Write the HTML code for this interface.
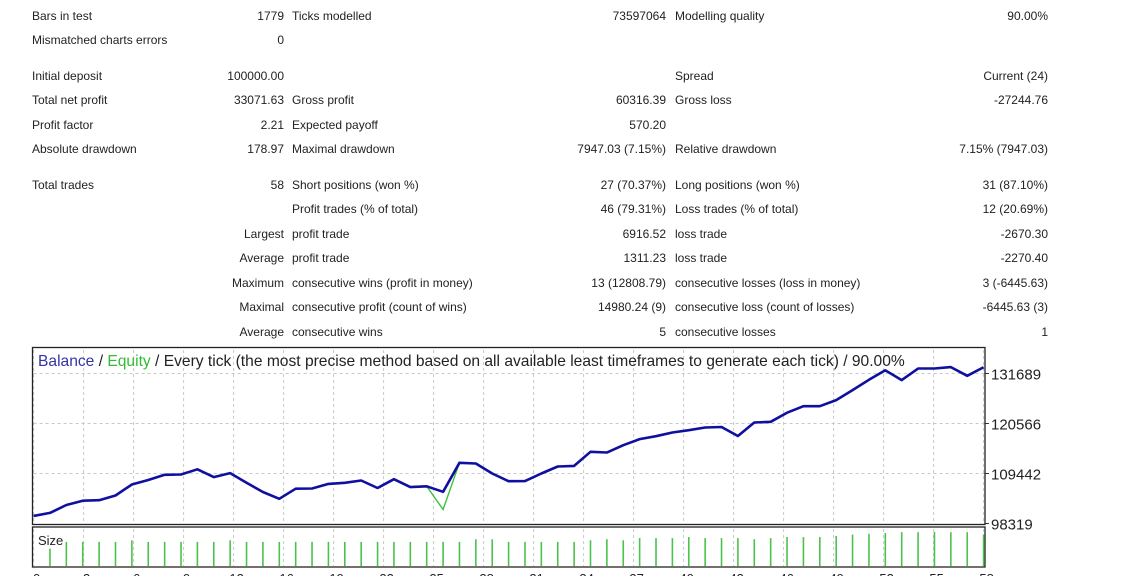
<!DOCTYPE html>
<html><head><meta charset="utf-8"><style>
body{margin:0;width:1137px;height:576px;background:#fff;overflow:hidden;position:relative;font-family:"Liberation Sans",sans-serif;font-size:12px;color:#222}
.t{position:absolute;white-space:nowrap;line-height:14px}
.r{text-align:right}
</style></head><body>
<div id="tbl"></div>
<svg id="ch" width="1137" height="576" style="position:absolute;left:0;top:0"></svg>
<script>
const rows=[
[15,"Bars in test","1779","Ticks modelled","73597064","Modelling quality","90.00%"],
[39,"Mismatched charts errors","0","","","",""],
[75,"Initial deposit","100000.00","","","Spread","Current (24)"],
[99,"Total net profit","33071.63","Gross profit","60316.39","Gross loss","-27244.76"],
[124,"Profit factor","2.21","Expected payoff","570.20","",""],
[148,"Absolute drawdown","178.97","Maximal drawdown","7947.03 (7.15%)","Relative drawdown","7.15% (7947.03)"],
[184,"Total trades","58","Short positions (won %)","27 (70.37%)","Long positions (won %)","31 (87.10%)"],
[208,"","","Profit trades (% of total)","46 (79.31%)","Loss trades (% of total)","12 (20.69%)"],
[233,"","Largest","profit trade","6916.52","loss trade","-2670.30"],
[257,"","Average","profit trade","1311.23","loss trade","-2270.40"],
[282,"","Maximum","consecutive wins (profit in money)","13 (12808.79)","consecutive losses (loss in money)","3 (-6445.63)"],
[306,"","Maximal","consecutive profit (count of wins)","14980.24 (9)","consecutive loss (count of losses)","-6445.63 (3)"],
[331,"","Average","consecutive wins","5","consecutive losses","1"]];
const tbl=document.getElementById('tbl');
rows.forEach(r=>{
 const y=r[0]-6;
 [[r[1],32,0],[r[2],284,1],[r[3],292,0],[r[4],666,1],[r[5],675,0],[r[6],1048,1]].forEach(c=>{
  if(!c[0])return;
  const d=document.createElement('div');
  d.className='t'+(c[2]?' r':'');
  d.style.top=y+'px';
  if(c[2]){d.style.right=(1137-c[1])+'px';}else d.style.left=c[1]+'px';
  d.textContent=c[0];
  
  
  tbl.appendChild(d);
 });
});

const balance=[100000,100677,102435,103391,103502,104548,106995,107996,109153,109220,110376,108641,109531,107395,105326,103814,106061,106105,107128,107373,107885,106216,108174,106417,106595,105371,111822,111667,109442,107729,107751,109442,110999,111133,114269,114114,115738,117095,117740,118563,119074,119675,119786,117784,120787,120943,122968,124413,124413,125771,127995,130286,132400,130220,132800,132800,133112,131176,133072];
const equity=[100000,100677,102435,103391,103502,104548,106995,107996,109153,109220,110376,108641,109531,107395,105326,103814,106061,106105,107128,107373,107885,106216,108174,106417,106595,101433,111822,111667,109442,107729,107751,109442,110999,111133,114269,114114,115738,117095,117740,118563,119074,119675,119786,117784,120787,120943,122968,124413,124413,125771,127995,130286,132400,130220,132800,132800,133112,131176,133072];
const sizes=[0,0.68,0.93,0.93,0.93,0.93,0.99,0.93,0.93,0.93,0.93,0.93,0.99,0.93,0.93,0.93,0.93,0.93,0.93,0.93,0.93,0.93,0.93,0.93,0.93,0.93,0.93,1.03,1.03,0.93,0.93,0.93,0.93,0.93,0.99,1.03,0.99,1.07,1.07,1.07,1.11,1.07,1.07,1.07,1.03,1.07,1.11,1.11,1.11,1.15,1.2,1.23,1.26,1.29,1.29,1.3,1.29,1.29,1.21];
const yTicks=[98319,109442,120566,131689];
const xTicks=[0,3,6,9,12,16,19,22,25,28,31,34,37,40,43,46,49,52,55,58];

const svg=document.getElementById('ch');
const NS='http://www.w3.org/2000/svg';
function el(t,a,p){const e=document.createElementNS(NS,t);for(const k in a)e.setAttribute(k,a[k]);(p||svg).appendChild(e);return e;}
const L=33.6,R=983.6,T=348,B=524,ST=527,SB=567;
const n=balance.length-1;
const xs=i=>L+i*(R-L)/n;
const ys=v=>523.5-(v-98319)*50/11123.3;
const ss=v=>SB-v*27;

for(let k=0;k<xTicks.length;k++){
 const x=L+k*50;
 const g=el('line',{x1:x,x2:x,y1:T+2,y2:B-1,stroke:'#c8c8c8','stroke-dasharray':'3,3'});
 
 
 const g2=el('line',{x1:x,x2:x,y1:ST+2,y2:SB-1,stroke:'#c8c8c8','stroke-dasharray':'3,3'});
 
 
 const tx=el('text',{x:x+3,y:583,'font-size':13,fill:'#222','text-anchor':'middle','font-family':'Liberation Sans, sans-serif'});
 tx.textContent=xTicks[k];
 
 
}
yTicks.forEach(v=>{
 const y=ys(v);
 if(v!==yTicks[0]){
  const g=el('line',{x1:L,x2:985,y1:y,y2:y,stroke:'#c8c8c8','stroke-dasharray':'3,3'});
  
  
 }
 const tk=el('line',{x1:985,x2:989,y1:y,y2:y,stroke:'#333'});
 
 
 const tx=el('text',{x:991,y:y+6,'font-size':15,fill:'#222','font-family':'Liberation Sans, sans-serif'});
 tx.textContent=v;
 
 
});
const f1=el('rect',{x:32.5,y:T-0.5,width:952.5,height:B-T+1,fill:'none',stroke:'#222','stroke-width':1.3});


const f2=el('rect',{x:32.5,y:ST,width:952.5,height:SB-ST,fill:'none',stroke:'#222','stroke-width':1.3});



sizes.forEach((v,i)=>{
 if(v<=0)return;
 const b=el('line',{x1:xs(i),x2:xs(i),y1:ss(v),y2:SB-1,stroke:'#4cc24c','stroke-width':1.6});
 
 
});
const sl=el('text',{x:38,y:545,'font-size':13,fill:'#222','font-family':'Liberation Sans, sans-serif'});
sl.textContent='Size';



const eq=el('polyline',{points:equity.map((v,i)=>xs(i)+','+ys(v)).join(' '),fill:'none',stroke:'#3cc23c','stroke-width':1.4});


const bl=el('polyline',{points:balance.map((v,i)=>xs(i)+','+ys(v)).join(' '),fill:'none',stroke:'#1010a0','stroke-width':2.6,'stroke-linejoin':'round'});



const title=el('text',{x:38,y:366,'font-size':15.6,fill:'#222','font-family':'Liberation Sans, sans-serif'});


title.innerHTML='<tspan fill="#3333aa">Balance</tspan> / <tspan fill="#33bb33">Equity</tspan> / Every tick (the most precise method based on all available least timeframes to generate each tick) / 90.00%';
</script>
</body></html>
